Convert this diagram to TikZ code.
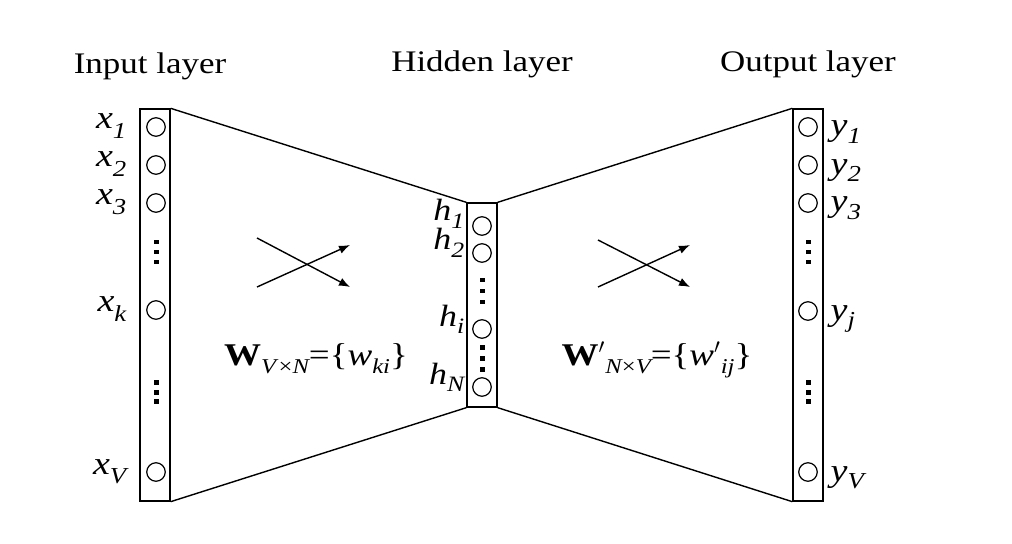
\documentclass[tikz,border=0pt]{standalone}
\usepackage{fontspec}
\setmainfont{Liberation Serif}[FakeStretch=1.17]
\usetikzlibrary{arrows.meta}
% #1 drop of subscript, #2 base letter, #3 subscript
\newcommand{\sublab}[3][5pt]{{\fontsize{18.5}{22}\selectfont\itshape #2}\raisebox{-#1}{\fontsize{13}{15}\selectfont\itshape #3}}
\newcommand{\hlab}[2]{{\fontsize{17.5}{21}\selectfont\itshape #1}\raisebox{-4pt}{\fontsize{12.5}{15}\selectfont\itshape #2}}
\begin{document}
\begin{tikzpicture}[x=0.02cm,y=-0.02cm,line width=0.8pt,
  layerbox/.style={draw,minimum width=0.6cm,inner sep=0pt},
  neuron/.style={draw,circle,minimum size=0.37cm,inner sep=0pt,line width=0.7pt},
  hneuron/.style={draw,circle,minimum size=0.37cm,inner sep=0pt,line width=0.7pt},
  dot/.style={fill=black,minimum size=0.1cm,inner sep=0pt},
  title/.style={font=\fontsize{17}{20}\selectfont,anchor=base},
  lab/.style={inner sep=0pt},
  arr/.style={-{Latex[length=0.22cm,width=0.17cm]},line width=0.8pt}]
\useasboundingbox (0,0) rectangle (1012,544);
% titles
\node[title] (tin) at (150,74) {Input layer};
\node[title] (thid) at (482,72) {Hidden layer};
\node[title] (tout) at (808,72) {Output layer};
% boxes
\node[layerbox,minimum height=7.84cm] (inbox) at (155,305) {};
\node[layerbox,minimum height=4.08cm] (hidbox) at (482,305) {};
\node[layerbox,minimum height=7.84cm] (outbox) at (808,305) {};
% connectors between boxes
\draw (inbox.north east) -- (hidbox.north west);
\draw (inbox.south east) -- (hidbox.south west);
\draw (hidbox.north east) -- (outbox.north west);
\draw (hidbox.south east) -- (outbox.south west);
% input neurons
\foreach \n/\y in {1/127,2/165,3/203,k/310,V/472} {
  \node[neuron] (x\n) at (156,\y) {};
  \node[lab,anchor=base east] (lx\n) at (127,\y+2) {\sublab[5.5pt]{x}{\n}};
}
% output neurons
\foreach \n/\y in {1/127,2/165,3/203,j/311,V/472} {
  \node[neuron] (y\n) at (808,\y) {};
  \node[lab,anchor=base west] (ly\n) at (830,\y+9) {\sublab[4pt]{y}{\n}};
}
% hidden neurons
\foreach \n/\y/\d in {1/226/5,2/253/3,i/329/3,N/387/3} {
  \node[hneuron] (h\n) at (482,\y) {};
  \node[lab,anchor=base east] (lh\n) at (465,\y-\d) {\hlab{h}{\n}};
}
% dots
\foreach \y in {242,252,262,382,392,401} {
  \node[dot] (din\y) at (156,\y) {};
  \node[dot] (dout\y) at (808,\y) {};
}
\foreach \y in {280,291,302,347,358,369} {
  \node[dot] (dh\y) at (482,\y) {};
}
% crossing arrows
\coordinate (a1s) at (257,238); \coordinate (a1e) at (350,287);
\coordinate (a2s) at (257,287); \coordinate (a2e) at (350,245);
\draw[arr] (a1s) -- (a1e);
\draw[arr] (a2s) -- (a2e);
\coordinate (b1s) at (598,240); \coordinate (b1e) at (690,287);
\coordinate (b2s) at (598,287); \coordinate (b2e) at (690,245);
\draw[arr] (b1s) -- (b1e);
\draw[arr] (b2s) -- (b2e);
% weight labels
\node[lab,anchor=base] (wl) at (316,365) {{\fontsize{18}{22}\selectfont\bfseries W}\raisebox{-5pt}{\fontsize{12}{14}\selectfont\itshape V\/\upshape×\itshape N}{\fontsize{18}{22}\selectfont =\{\itshape w\/\raisebox{-5pt}{\fontsize{12}{14}\selectfont ki}\upshape\}}};
\node[lab,anchor=base] (wr) at (657,365) {{\fontsize{18}{22}\selectfont\bfseries W\mdseries\itshape\/$'$}\raisebox{-5pt}{\fontsize{12}{14}\selectfont\itshape N\upshape×\itshape V}{\fontsize{18}{22}\selectfont =\{\itshape w$'$\raisebox{-5pt}{\fontsize{12}{14}\selectfont ij}\upshape\}}};
\end{tikzpicture}
\end{document}
